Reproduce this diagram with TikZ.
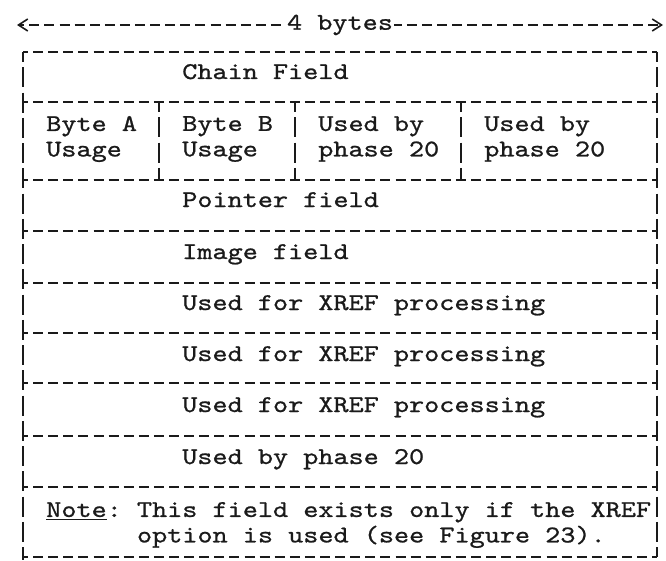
\documentclass[tikz,border=0pt]{standalone}
\usepackage{fontspec}
\setmonofont{lmmono10-regular.otf}[FakeStretch=1.2,FakeBold=0.9]
\usetikzlibrary{arrows.meta,positioning}
\definecolor{ink}{HTML}{1A1A1A}
\tikzset{
  field/.style={anchor=base west,inner sep=0pt,text=ink,font=\ttfamily\fontsize{18}{19.1}\selectfont\frenchspacing},
  pair/.style={field,anchor=west,align=left},
  rule/.style={draw=ink,line width=1.5pt,dash pattern=on 7.5pt off 3.825pt,dash phase=3.75pt},
  bar/.style={draw=ink,line width=1.5pt,dash pattern=on 15pt off 3.94pt,dash phase=7.5pt},
  span/.style={rule,{Straight Barb[length=7pt,width=9pt,line width=1.2pt]}-{Straight Barb[length=7pt,width=9pt,line width=1.2pt]}}
}

\begin{document}
\begin{tikzpicture}[x=0.75pt,y=-0.75pt]
    \useasboundingbox (0,0) rectangle (666,560);

    \coordinate (lend) at (17,25);
    \coordinate (rend) at (663,25);
    \draw[span] (lend) -- node[field,anchor=center,fill=white,inner xsep=1pt,inner ysep=2pt] (width) {4 bytes} (rend);

    \node[field] (chain) at (182,79) {Chain Field};
    \node[pair] (bytea) at (46,139) {Byte A\\Usage};
    \node[pair] (byteb) at (182,139) {Byte B\\Usage};
    \node[pair] (useda) at (318,139) {Used by\\phase 20};
    \node[pair] (usedb) at (484,139) {Used by\\phase 20};
    \node[field] (pointer) at (182,207) {Pointer field};
    \node[field] (image) at (182,259) {Image field};
    \node[field] (xrefa) at (182,310) {Used for XREF processing};
    \node[field] (xrefb) at (182,361) {Used for XREF processing};
    \node[field] (xrefc) at (182,412) {Used for XREF processing};
    \node[field] (phase) at (182,464) {Used by phase 20};
    \node[pair] (note) at (46,525) {\underline{Note}: This field exists only if the XREF\\\hphantom{Note: }option is used (see Figure 23).};

    \foreach \y in {52,102,180,231,283,333,383,436,487,557}
      \draw[rule] (23,\y) -- (657,\y);
    \draw[bar] (23,52) -- (23,560);
    \draw[bar] (657,52) -- (657,557);
    \foreach \x in {159,295,461}
      \draw[bar] (\x,102) -- (\x,180);
\end{tikzpicture}
\end{document}
